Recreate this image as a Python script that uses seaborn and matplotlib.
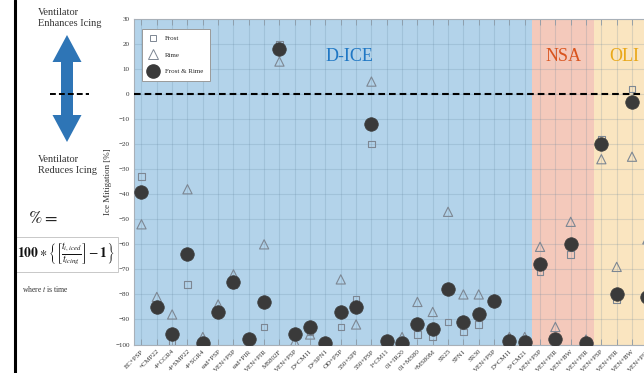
import numpy as np
import pandas as pd
import matplotlib
matplotlib.use("Agg")
import matplotlib.pyplot as plt
import seaborn as sns
from matplotlib.patches import Polygon, Rectangle
from matplotlib.lines import Line2D

# ---- data -------------------------------------------------------------
instruments = [
    "EC+PSP", "+CMP22", "4+CGR4", "4+SMP22", "4+SGR4",
    "ead+PSP", "VEN+PSP", "ead+PIR", "VEN+PIR", "MS802F",
    "VEN+PSP", "D+CM11", "D+SPN1", "OD+PSP", "550+SPP",
    "550+PSP", "I+CM11", "01+IR20", "01+MS80", "+MS80M",
    "SR25", "SPN1", "SR30", "VEN+PSP", "D+CM11", "S+CM21",
    "VEN+PSP", "VEN+PIR", "VEN+BW", "VEN+PIR",
    "VEN+PSP", "VEN+PIR", "VEN+BW", "VEN+PIR",
]
campaigns = ["D-ICE"] * 26 + ["NSA"] * 4 + ["OLI"] * 4

frost = [-33, -86, -99, -76, -100, -88, -76, -99, -93, 20,
         -97, -95, -100, -93, -82, -20, -99, -100, -96, -97,
         -91, -95, -92, -83, -99, -100,
         -71, -100, -64, -100,
         -18, -82, 2, -83]
rime = [-52, -81, -88, -38, -97, -84, -72, -99, -60, 13,
        -99, -96, -100, -74, -92, 5, -99, -97, -83, -87,
        -47, -80, -80, -82, -97, -97,
        -61, -93, -51, -98,
        -26, -69, -25, -58]
frost_rime = [-39, -85, -96, -64, -99.5, -87, -75, -98, -83, 18,
              -96, -93, -99.5, -87, -85, -12, -98.5, -99.5, -92, -94,
              -78, -91, -88, -82.5, -98.5, -99,
              -68, -98, -60, -99.5,
              -20, -80, -3, -81]

campaign_names = ["D-ICE", "NSA", "OLI"]
campaign_fill = {"D-ICE": "#b3d3ea", "NSA": "#f4c9bb", "OLI": "#fae5c0"}
campaign_text = {"D-ICE": "#1f77c4", "NSA": "#d9541e", "OLI": "#e9a81a"}

df = pd.DataFrame({
    "instrument": instruments,
    "campaign": campaigns,
    "Frost": frost,
    "Rime": rime,
    "Frost & Rime": frost_rime,
})
df["pos"] = np.arange(len(df))

# ---- figure -----------------------------------------------------------
sns.set_theme(style="white")
plt.rcParams["font.family"] = ["Liberation Serif", "DejaVu Serif"]
plt.rcParams["mathtext.fontset"] = "stix"

W, H = 644, 373
fig = plt.figure(figsize=(W / 100, H / 100), dpi=100)
fig.patch.set_facecolor("white")


def fx(x):
    return x / W


def fy(y):
    return 1 - y / H


ax = fig.add_axes([0.2078, 0.0764, 0.8093, 0.8727])

# campaign bands
for name in campaign_names:
    sub = df[df["campaign"] == name]
    lo, hi = sub["pos"].min() - 0.5, sub["pos"].max() + 0.5
    ax.axvspan(lo, hi, color=campaign_fill[name], zorder=0, lw=0)
    ax.text((lo + hi) / 2 if name != "D-ICE" else lo + 0.54 * (hi - lo), 15,
            name, color=campaign_text[name], fontsize=13,
            ha="center", va="center", zorder=5)

edge = "#7d8793"
sns.scatterplot(data=df, x="pos", y="Frost", marker="s", s=22,
                facecolor="none", edgecolor=edge, linewidth=0.8,
                ax=ax, zorder=3, legend=False)
sns.scatterplot(data=df, x="pos", y="Rime", marker="^", s=44,
                facecolor="none", edgecolor=edge, linewidth=0.8,
                ax=ax, zorder=3, legend=False)
sns.scatterplot(data=df, x="pos", y="Frost & Rime", marker="o", s=95,
                color="#3a3a3a", edgecolor="#3a3a3a", linewidth=0.5,
                ax=ax, zorder=4, legend=False)

ax.axhline(0, color="black", lw=1.5, ls=(0, (3.2, 1.9)), zorder=4)

ax.set_xlim(-0.5, len(df) - 0.5)
ax.set_ylim(-100, 30)
ax.set_yticks(np.arange(-100, 31, 10))
ax.set_xticks(df["pos"])
ax.set_xticklabels(df["instrument"], rotation=45, ha="right",
                   rotation_mode="anchor", fontsize=5, color="#333333")
ax.tick_params(axis="y", labelsize=5, length=0, pad=3, colors="#333333")
ax.tick_params(axis="x", direction="in", length=4, width=0.6,
               color="#8c9aa6", top=True, bottom=True, pad=3)
ax.set_xlabel("")
ax.set_ylabel("Ice Mitigation [%]", fontsize=6.5, color="#333333", labelpad=2)

ax.set_axisbelow(True)
ax.grid(True, color="#5d7f99", alpha=0.2, lw=0.8)
for side in ["top", "left", "bottom"]:
    ax.spines[side].set_color("#a8b0b8")
    ax.spines[side].set_linewidth(0.8)
ax.spines["right"].set_visible(False)

handles = [
    Line2D([], [], ls="none", marker="s", markersize=5, mfc="none",
           mec=edge, mew=0.7, label="Frost"),
    Line2D([], [], ls="none", marker="^", markersize=6.5, mfc="none",
           mec=edge, mew=0.7, label="Rime"),
    Line2D([], [], ls="none", marker="o", markersize=9.5, mfc="#3a3a3a",
           mec="#3a3a3a", label="Frost & Rime"),
]
leg = ax.legend(handles=handles, loc="upper left",
                bbox_to_anchor=(0.015, 0.969), borderaxespad=0,
                fontsize=5, frameon=True, fancybox=False, framealpha=1,
                edgecolor="#9a9a9a", labelspacing=1.55, handletextpad=0.9,
                borderpad=0.9, handlelength=1.6)
leg.get_frame().set_linewidth(0.7)
leg.set_zorder(6)

# ---- explanatory panel on the left ------------------------------------
fig.add_artist(Line2D([fx(15), fx(15)], [0, 1], color="black", lw=2.2))

fig.text(fx(38), fy(8), "Ventilator\nEnhances Icing", fontsize=7.5,
         ha="left", va="top", color="#333333", linespacing=1.25)
fig.text(fx(38), fy(155), "Ventilator\nReduces Icing", fontsize=7.5,
         ha="left", va="top", color="#333333", linespacing=1.25)

cx, top, bot = 67, 35, 142
hw, sw, hl = 14.5, 6, 27
arrow_px = [(cx, top), (cx + hw, top + hl), (cx + sw, top + hl),
            (cx + sw, bot - hl), (cx + hw, bot - hl), (cx, bot),
            (cx - hw, bot - hl), (cx - sw, bot - hl), (cx - sw, top + hl),
            (cx - hw, top + hl)]
fig.add_artist(Polygon([(fx(x), fy(y)) for x, y in arrow_px],
                       closed=True, transform=fig.transFigure,
                       facecolor="#2e75b6", edgecolor="none"))
fig.add_artist(Line2D([fx(50), fx(89)], [fy(93.5), fy(93.5)], color="black",
                      lw=1.4, ls=(0, (3.0, 1.6))))

fig.text(fx(28), fy(219), r"$\%=$", fontsize=13, ha="left", va="center",
         color="#222222")
fig.add_artist(Rectangle((fx(15), fy(272)), fx(103), 35 / H,
                         transform=fig.transFigure, facecolor="white",
                         edgecolor="#c8c8c8", lw=0.7))
fig.text(fx(66), fy(255),
         r"$\mathbf{100}\ast\left\{\left[\frac{t_{i,iced}}{t_{icing}}\right]-\mathbf{1}\right\}$",
         fontsize=9.8, ha="center", va="center", color="#111111")
fig.text(fx(22), fy(289), r"where $t$ is time", fontsize=5.5,
         ha="left", va="center", color="#333333")

fig.savefig("out.png", dpi=100, facecolor="white")
